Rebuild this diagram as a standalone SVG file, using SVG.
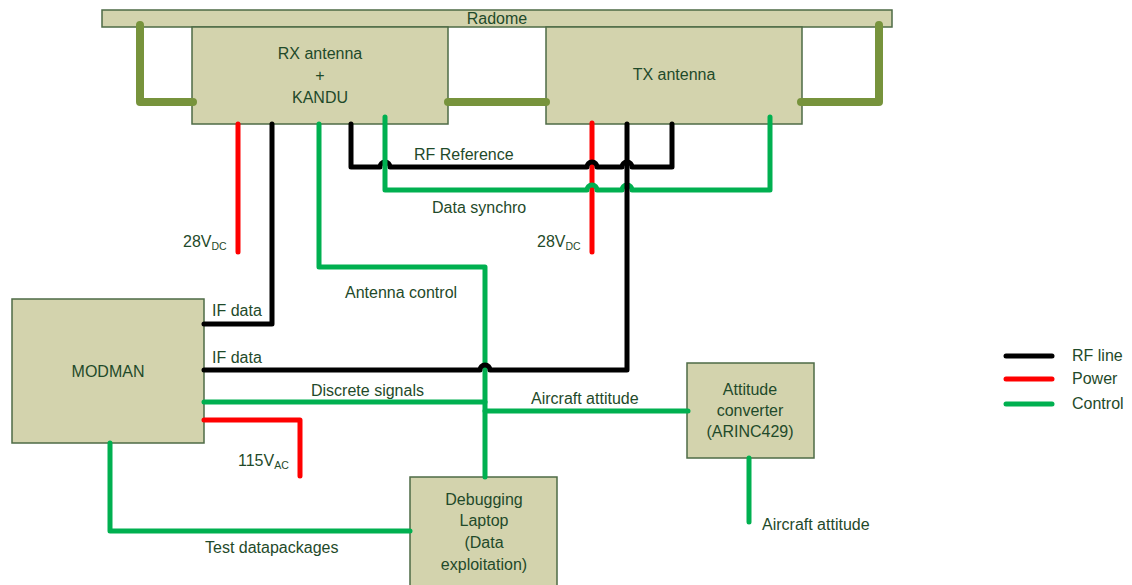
<svg xmlns="http://www.w3.org/2000/svg" width="1132" height="585" viewBox="0 0 1132 585">
<style>
.box{fill:#d3d3ad;stroke:#4e6b46;stroke-width:1.5}
text{font-family:"Liberation Sans",Arial,sans-serif;font-size:16px;fill:#1f4a2a}
.c{text-anchor:middle}
.w{fill:none;stroke-width:5;stroke-linecap:round;stroke-linejoin:round}
.k{stroke:#000}
.r{stroke:#ff0000}
.g{stroke:#00b050}
.o{fill:none;stroke:#77933c;stroke-width:8;stroke-linecap:round;stroke-linejoin:round}
.sub{font-size:10.5px}
</style>
<rect width="1132" height="585" fill="#fff"/>
<g id="radome">
<rect class="box" x="102" y="10" width="790" height="17"/>
<text class="c" x="497" y="24">Radome</text>
</g>
<g id="rx-antenna">
<rect class="box" x="192" y="27" width="256" height="97"/>
<text class="c" x="320" y="59">RX antenna</text>
<text class="c" x="320" y="81">+</text>
<text class="c" x="320" y="103">KANDU</text>
</g>
<g id="tx-antenna">
<rect class="box" x="546" y="27" width="256" height="97"/>
<text class="c" x="674" y="80">TX antenna</text>
</g>
<g id="modman">
<rect class="box" x="12" y="299" width="192" height="144"/>
<text class="c" x="108" y="377">MODMAN</text>
</g>
<g id="attitude-converter">
<rect class="box" x="687" y="363" width="127" height="95"/>
<text class="c" x="750" y="395">Attitude</text>
<text class="c" x="750" y="416">converter</text>
<text class="c" x="750" y="437">(ARINC429)</text>
</g>
<g id="debugging-laptop">
<rect class="box" x="410" y="477" width="147" height="115"/>
<text class="c" x="484" y="505">Debugging</text>
<text class="c" x="484" y="526">Laptop</text>
<text class="c" x="484" y="548">(Data</text>
<text class="c" x="484" y="570">exploitation)</text>
</g>
<g id="connectors">
<path class="o" d="M140,25 V102 H193"/>
<path class="o" d="M448,102 H546"/>
<path class="o" d="M801,102 H879 V25"/>
<path class="w r" d="M238,124 V252"/>
<path class="w k" d="M272,124 V324 H204"/>
<path class="w g" d="M319,124 V267 H485 V477"/>
<path class="w r" d="M592,123 V252"/>
<path class="w k" d="M351,124 V167 H380 A5,5 0 0 1 390,167 H587 A5,5 0 0 1 597,167 H622 A5,5 0 0 1 632,167 H672 V124"/>
<path class="w g" d="M385,117 V190 H587 A5,5 0 0 1 597,190 H622 A5,5 0 0 1 632,190 H770 V117"/>
<path class="w k" d="M627,124 V370 H490 A5,5 0 0 0 480,370 H204"/>
<path class="w g" d="M204,402 H485"/>
<path class="w g" d="M485,411 H688"/>
<path class="w r" d="M204,420 H300 V476"/>
<path class="w g" d="M110,443 V531 H410"/>
<path class="w g" d="M749,458 V522"/>
</g>
<g id="labels">
<text x="183" y="247">28V<tspan class="sub" dy="3">DC</tspan></text>
<text x="537" y="247">28V<tspan class="sub" dy="3">DC</tspan></text>
<text x="414" y="160">RF Reference</text>
<text x="432" y="213">Data synchro</text>
<text x="345" y="298">Antenna control</text>
<text x="212" y="316">IF data</text>
<text x="212" y="363">IF data</text>
<text x="311" y="396">Discrete signals</text>
<text x="531" y="404">Aircraft attitude</text>
<text x="238" y="466">115V<tspan class="sub" dy="3">AC</tspan></text>
<text x="205" y="553">Test datapackages</text>
<text x="762" y="530">Aircraft attitude</text>
</g>
<g id="legend">
<path class="w k" d="M1006,356 H1052"/>
<path class="w r" d="M1006,379 H1052"/>
<path class="w g" d="M1006,404 H1052"/>
<text x="1072" y="361">RF line</text>
<text x="1072" y="384">Power</text>
<text x="1072" y="409">Control</text>
</g>
</svg>
